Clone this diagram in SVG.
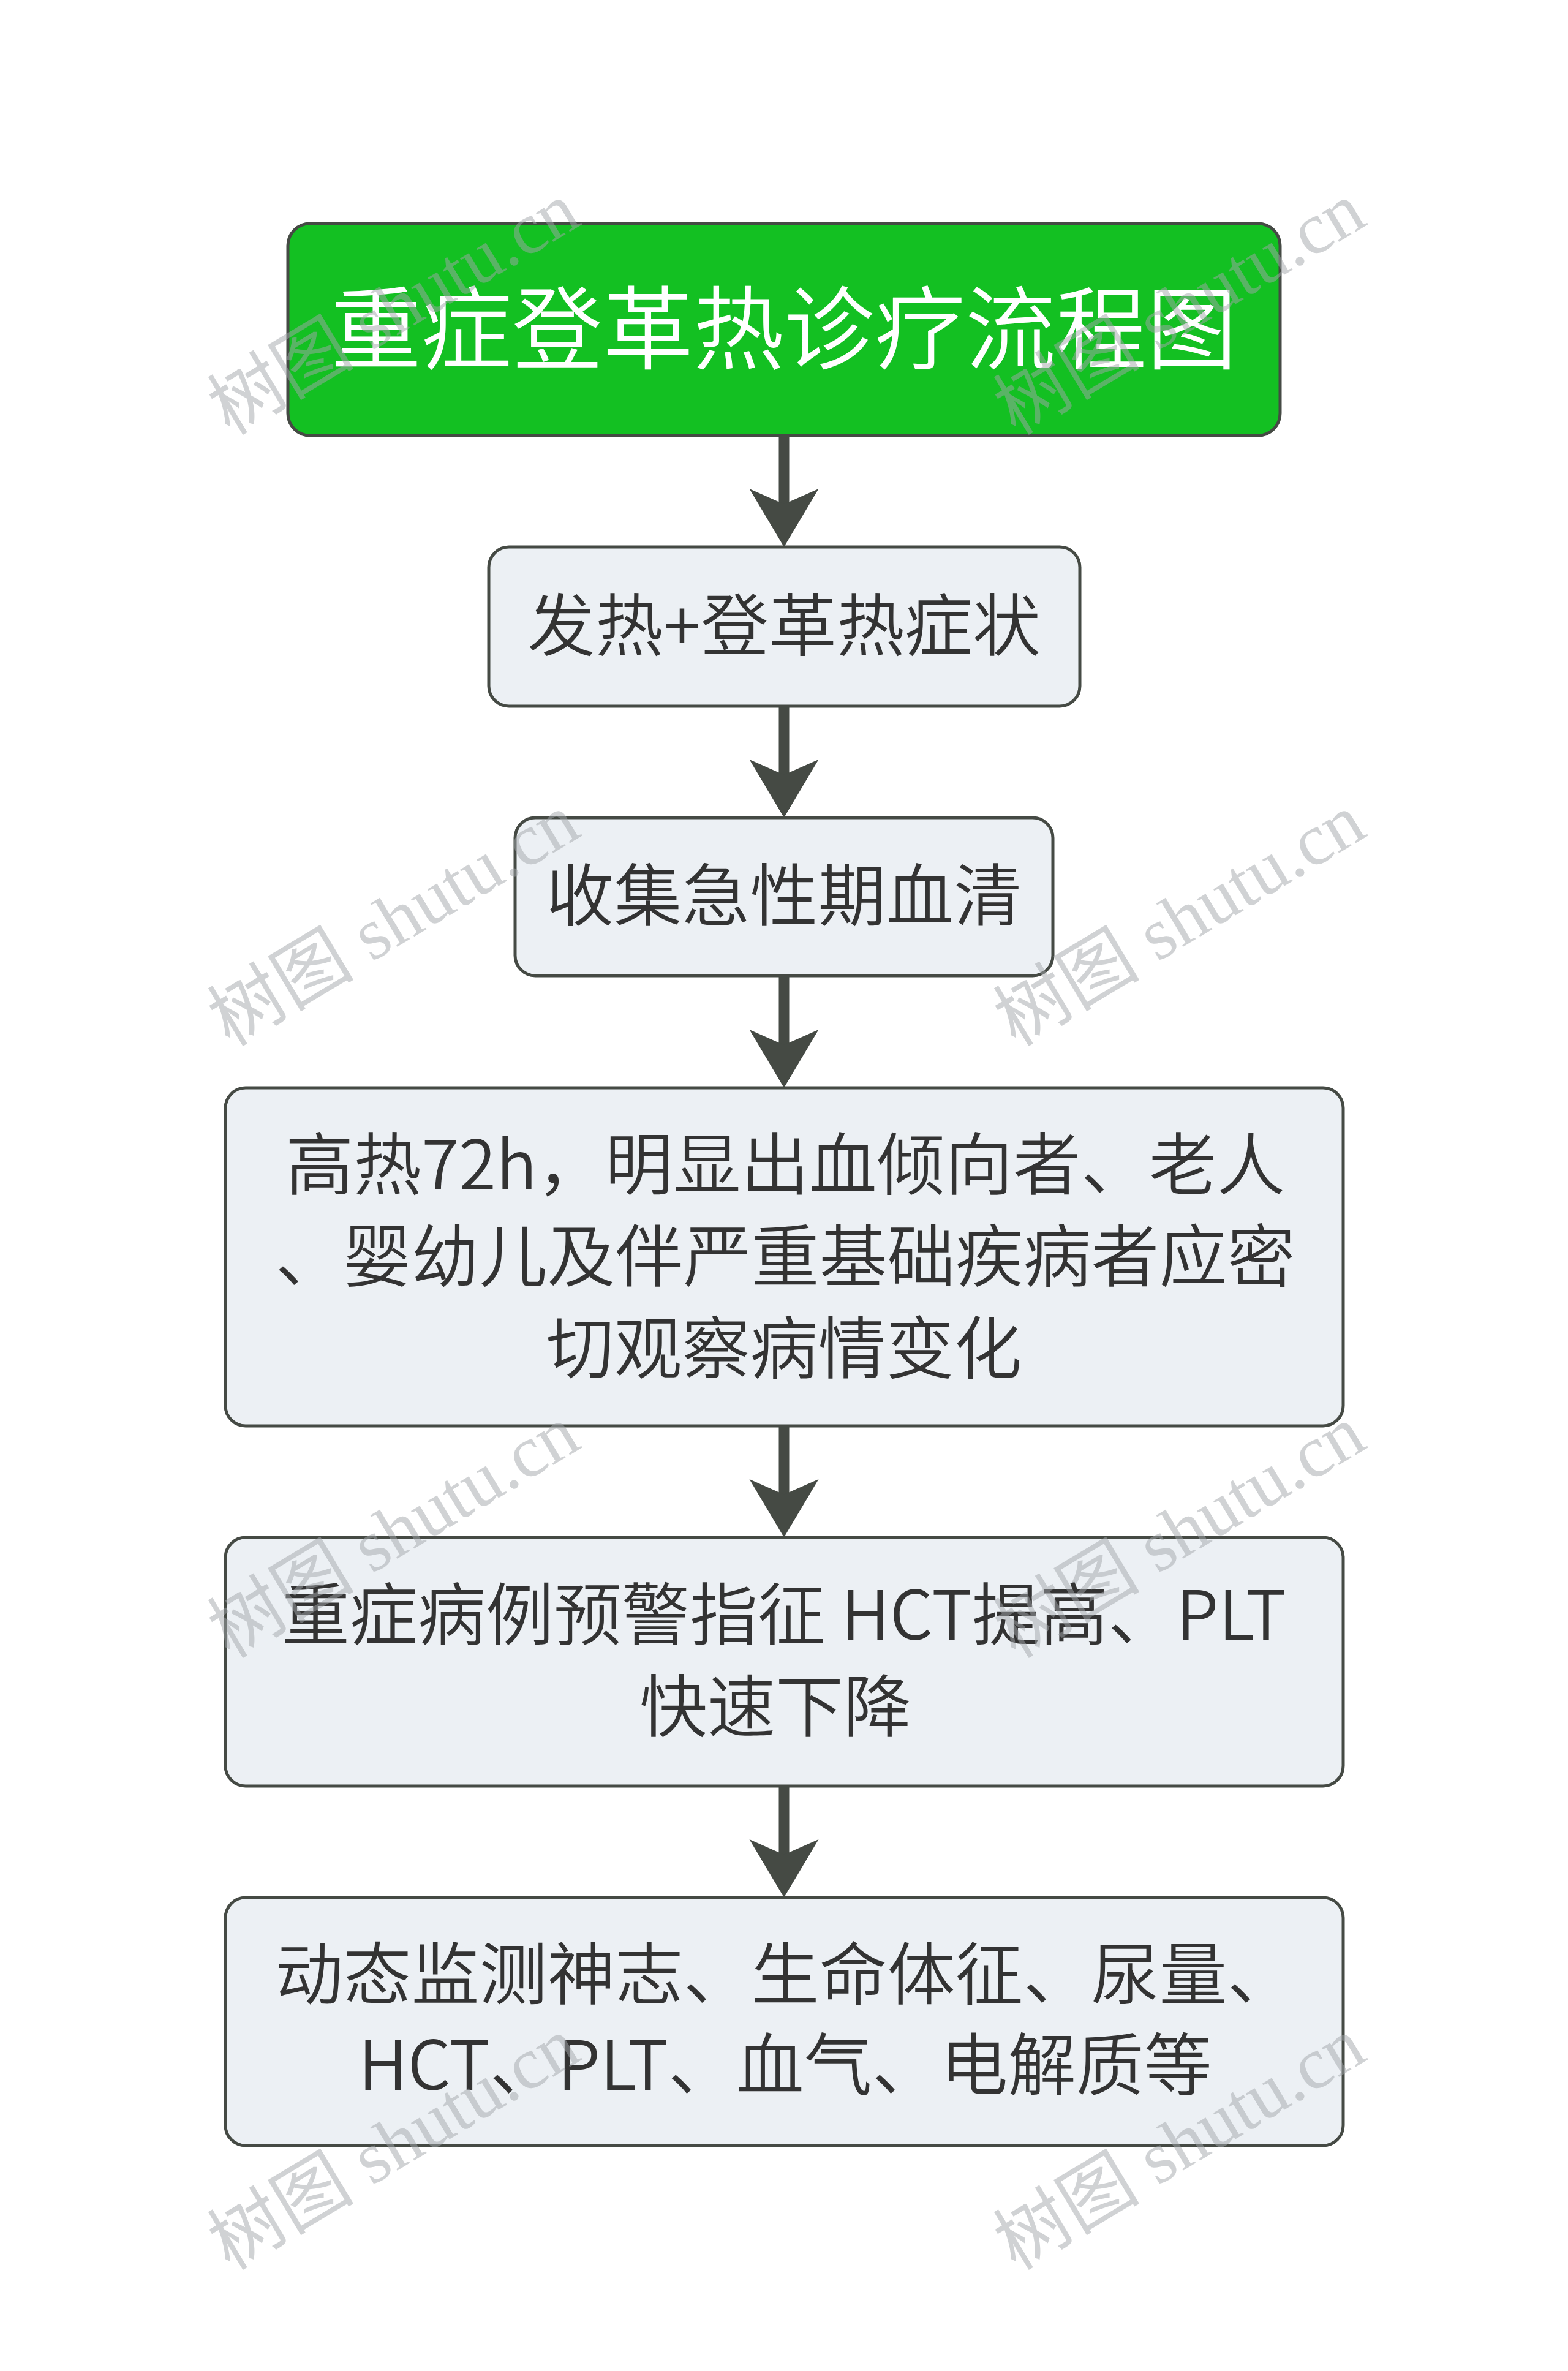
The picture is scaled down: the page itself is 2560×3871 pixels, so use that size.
<svg xmlns="http://www.w3.org/2000/svg" width="2560" height="3871" viewBox="0 0 2560 3871">
<style>
.node rect{fill:#ECF0F4;stroke:#454A44;stroke-width:5}
.title rect{fill:#13C022;stroke:#454A44;stroke-width:5}
.t{font-family:"Noto Sans CJK SC","Noto Sans",sans-serif;font-size:111px;font-weight:350;fill:#333333;text-anchor:middle}
.tt{font-family:"Noto Sans CJK SC","Noto Sans",sans-serif;font-size:148px;font-weight:350;fill:#FFFFFF;text-anchor:middle}
.conn line{stroke:#454A44;stroke-width:17}
.conn path{fill:#454A44;stroke:none}
.wm{font-family:"Liberation Serif","Noto Sans CJK SC",serif;font-size:120px;fill:#A2A6AA;fill-opacity:0.5}
</style>
<rect x="0" y="0" width="2560" height="3871" fill="#FFFFFF"/>
<g id="connectors" class="conn">
<line x1="1280" y1="711" x2="1280" y2="828"/>
<path d="M1280,893 L1223.5,798 L1280,823 L1336.5,798 Z"/>
<line x1="1280" y1="1153" x2="1280" y2="1270"/>
<path d="M1280,1335 L1223.5,1240 L1280,1265 L1336.5,1240 Z"/>
<line x1="1280" y1="1593" x2="1280" y2="1711"/>
<path d="M1280,1776 L1223.5,1681 L1280,1706 L1336.5,1681 Z"/>
<line x1="1280" y1="2328" x2="1280" y2="2445"/>
<path d="M1280,2510 L1223.5,2415 L1280,2440 L1336.5,2415 Z"/>
<line x1="1280" y1="2916" x2="1280" y2="3033"/>
<path d="M1280,3098 L1223.5,3003 L1280,3028 L1336.5,3003 Z"/>
</g>
<g id="node-title" class="title">
<rect x="470" y="365" width="1620" height="346" rx="36" ry="36"/>
<text class="tt" x="1280" y="591">重症登革热诊疗流程图</text>
</g>
<g id="node-fever" class="node">
<rect x="798" y="893" width="965" height="260" rx="33" ry="33"/>
<text class="t" x="1280" y="1062">发热+登革热症状</text>
</g>
<g id="node-serum" class="node">
<rect x="841" y="1335" width="878" height="258" rx="33" ry="33"/>
<text class="t" x="1280" y="1503">收集急性期血清</text>
</g>
<g id="node-observe" class="node">
<rect x="368" y="1776" width="1825" height="552" rx="33" ry="33"/>
<text class="t" x="1282" y="1942">高热72h，明显出血倾向者、老人</text>
<text class="t" x="1282" y="2092">、婴幼儿及伴严重基础疾病者应密</text>
<text class="t" x="1280" y="2242">切观察病情变化</text>
</g>
<g id="node-warning" class="node">
<rect x="368" y="2510" width="1825" height="406" rx="33" ry="33"/>
<text class="t" x="1280" y="2677">重症病例预警指征 HCT提高、PLT</text>
<text class="t" x="1266" y="2827">快速下降</text>
</g>
<g id="node-monitor" class="node">
<rect x="368" y="3098" width="1825" height="405" rx="33" ry="33"/>
<text class="t" x="1282" y="3264">动态监测神志、生命体征、尿量、</text>
<text class="t" x="1282" y="3412">HCT、PLT、血气、电解质等</text>
</g>
<g id="watermarks" class="wm">
<text transform="translate(375,712) rotate(-31)">树图 shutu.cn</text>
<text transform="translate(1658,712) rotate(-31)">树图 shutu.cn</text>
<text transform="translate(375,1710) rotate(-31)">树图 shutu.cn</text>
<text transform="translate(1658,1710) rotate(-31)">树图 shutu.cn</text>
<text transform="translate(375,2709) rotate(-31)">树图 shutu.cn</text>
<text transform="translate(1658,2709) rotate(-31)">树图 shutu.cn</text>
<text transform="translate(375,3708) rotate(-31)">树图 shutu.cn</text>
<text transform="translate(1658,3708) rotate(-31)">树图 shutu.cn</text>
</g>
</svg>
